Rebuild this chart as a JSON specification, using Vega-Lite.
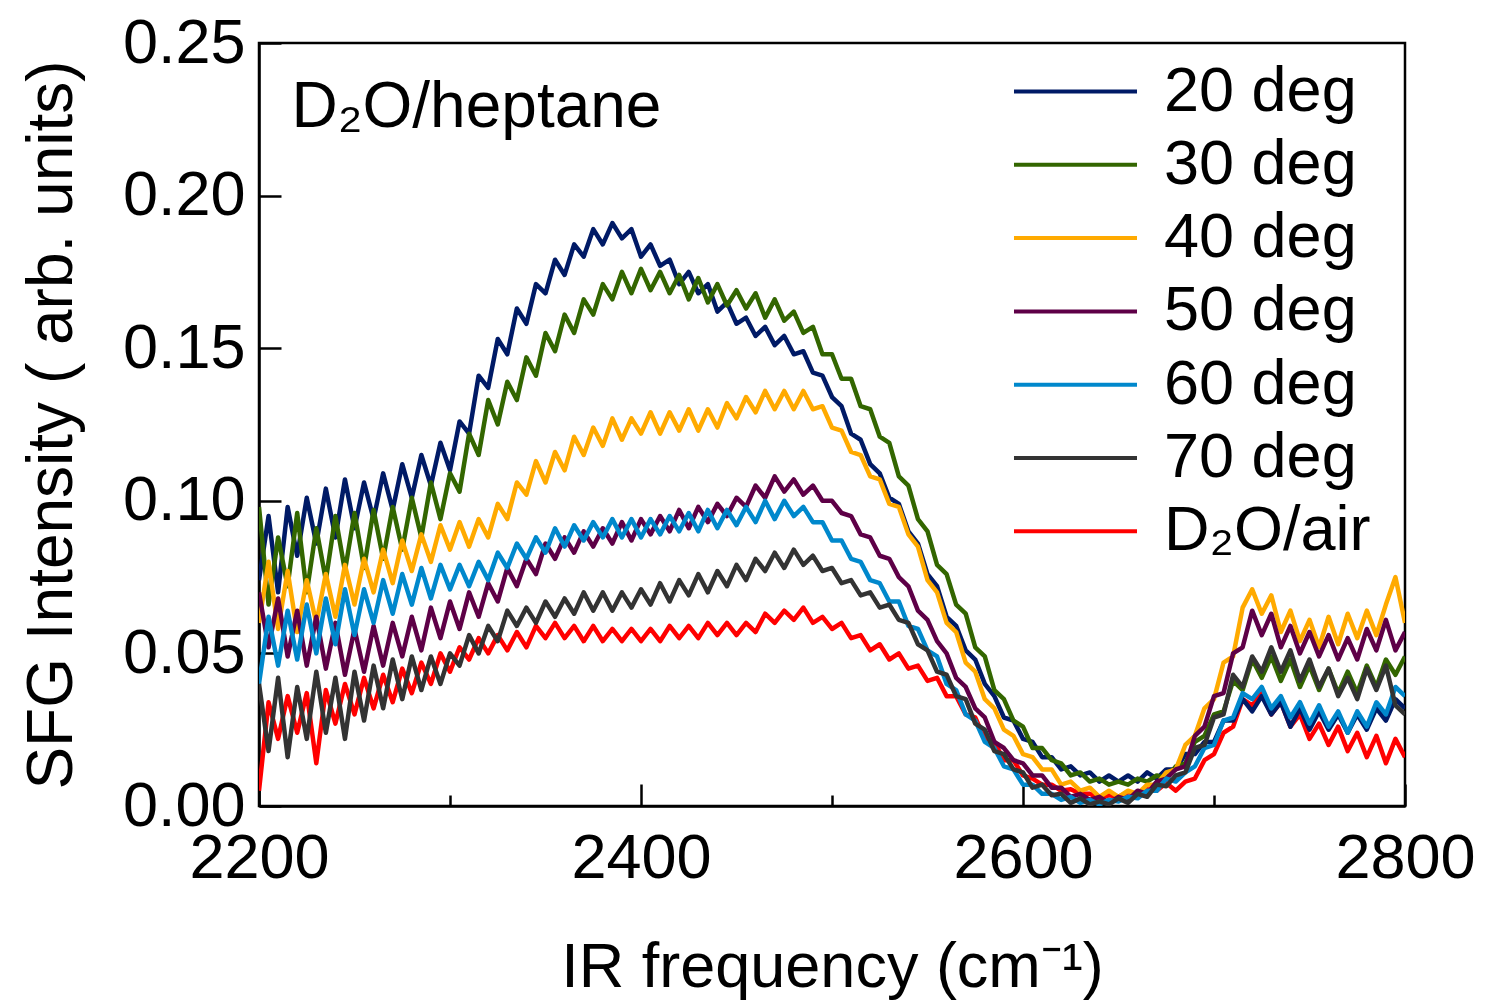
{
"$schema": "https://vega.github.io/schema/vega-lite/v6.json",
"width": 1146, "height": 763,
"autosize": {"type": "none"},
"padding": {"left": 259, "top": 43, "right": 80, "bottom": 198},
"background": "white",
"config": {"font": "Liberation Sans", "view": {"stroke": "black", "strokeWidth": 2.5}},
"data": {"values": [
{"x":2200,"a":0.074,"b":0.098,"c":0.060,"d":0.070,"e":0.040,"f":0.040,"g":0.005},
{"x":2205,"a":0.095,"b":0.066,"c":0.080,"d":0.052,"e":0.062,"f":0.018,"g":0.034},
{"x":2210,"a":0.070,"b":0.088,"c":0.058,"d":0.068,"e":0.046,"f":0.042,"g":0.022},
{"x":2215,"a":0.098,"b":0.072,"c":0.077,"d":0.049,"e":0.064,"f":0.016,"g":0.036},
{"x":2220,"a":0.082,"b":0.096,"c":0.057,"d":0.064,"e":0.048,"f":0.039,"g":0.024},
{"x":2225,"a":0.101,"b":0.070,"c":0.074,"d":0.046,"e":0.066,"f":0.022,"g":0.037},
{"x":2230,"a":0.086,"b":0.091,"c":0.060,"d":0.062,"e":0.050,"f":0.044,"g":0.014},
{"x":2235,"a":0.104,"b":0.074,"c":0.076,"d":0.045,"e":0.068,"f":0.024,"g":0.038},
{"x":2240,"a":0.088,"b":0.095,"c":0.062,"d":0.060,"e":0.053,"f":0.042,"g":0.027},
{"x":2245,"a":0.107,"b":0.077,"c":0.079,"d":0.043,"e":0.071,"f":0.022,"g":0.040},
{"x":2250,"a":0.091,"b":0.096,"c":0.066,"d":0.058,"e":0.056,"f":0.044,"g":0.030},
{"x":2255,"a":0.106,"b":0.078,"c":0.081,"d":0.044,"e":0.071,"f":0.028,"g":0.042},
{"x":2260,"a":0.094,"b":0.097,"c":0.070,"d":0.059,"e":0.060,"f":0.046,"g":0.032},
{"x":2265,"a":0.109,"b":0.081,"c":0.084,"d":0.046,"e":0.074,"f":0.032,"g":0.043},
{"x":2270,"a":0.097,"b":0.098,"c":0.073,"d":0.060,"e":0.063,"f":0.048,"g":0.034},
{"x":2275,"a":0.112,"b":0.084,"c":0.087,"d":0.049,"e":0.076,"f":0.035,"g":0.045},
{"x":2280,"a":0.101,"b":0.101,"c":0.077,"d":0.062,"e":0.066,"f":0.049,"g":0.037},
{"x":2285,"a":0.115,"b":0.088,"c":0.089,"d":0.051,"e":0.078,"f":0.038,"g":0.047},
{"x":2290,"a":0.105,"b":0.106,"c":0.080,"d":0.065,"e":0.068,"f":0.049,"g":0.040},
{"x":2295,"a":0.119,"b":0.094,"c":0.092,"d":0.055,"e":0.079,"f":0.040,"g":0.050},
{"x":2300,"a":0.110,"b":0.109,"c":0.084,"d":0.067,"e":0.071,"f":0.050,"g":0.044},
{"x":2305,"a":0.126,"b":0.103,"c":0.093,"d":0.058,"e":0.079,"f":0.046,"g":0.052},
{"x":2310,"a":0.122,"b":0.122,"c":0.085,"d":0.070,"e":0.072,"f":0.056,"g":0.048},
{"x":2315,"a":0.141,"b":0.115,"c":0.094,"d":0.062,"e":0.080,"f":0.050,"g":0.055},
{"x":2320,"a":0.137,"b":0.133,"c":0.088,"d":0.073,"e":0.074,"f":0.059,"g":0.050},
{"x":2325,"a":0.153,"b":0.125,"c":0.099,"d":0.067,"e":0.083,"f":0.054,"g":0.056},
{"x":2330,"a":0.148,"b":0.139,"c":0.094,"d":0.078,"e":0.078,"f":0.064,"g":0.051},
{"x":2335,"a":0.163,"b":0.133,"c":0.106,"d":0.072,"e":0.086,"f":0.059,"g":0.057},
{"x":2340,"a":0.158,"b":0.147,"c":0.102,"d":0.081,"e":0.081,"f":0.065,"g":0.052},
{"x":2345,"a":0.171,"b":0.141,"c":0.113,"d":0.076,"e":0.088,"f":0.060,"g":0.059},
{"x":2350,"a":0.168,"b":0.155,"c":0.106,"d":0.086,"e":0.083,"f":0.067,"g":0.055},
{"x":2355,"a":0.179,"b":0.149,"c":0.116,"d":0.081,"e":0.091,"f":0.062,"g":0.060},
{"x":2360,"a":0.174,"b":0.161,"c":0.110,"d":0.088,"e":0.085,"f":0.068,"g":0.055},
{"x":2365,"a":0.184,"b":0.155,"c":0.121,"d":0.083,"e":0.092,"f":0.063,"g":0.059},
{"x":2370,"a":0.180,"b":0.166,"c":0.115,"d":0.090,"e":0.087,"f":0.070,"g":0.054},
{"x":2375,"a":0.189,"b":0.161,"c":0.124,"d":0.085,"e":0.093,"f":0.064,"g":0.059},
{"x":2380,"a":0.184,"b":0.171,"c":0.118,"d":0.091,"e":0.088,"f":0.070,"g":0.054},
{"x":2385,"a":0.191,"b":0.166,"c":0.127,"d":0.086,"e":0.094,"f":0.064,"g":0.058},
{"x":2390,"a":0.186,"b":0.175,"c":0.120,"d":0.093,"e":0.088,"f":0.070,"g":0.054},
{"x":2395,"a":0.189,"b":0.168,"c":0.127,"d":0.087,"e":0.094,"f":0.065,"g":0.058},
{"x":2400,"a":0.180,"b":0.176,"c":0.122,"d":0.094,"e":0.088,"f":0.071,"g":0.054},
{"x":2405,"a":0.184,"b":0.169,"c":0.129,"d":0.089,"e":0.094,"f":0.066,"g":0.058},
{"x":2410,"a":0.177,"b":0.175,"c":0.122,"d":0.095,"e":0.089,"f":0.073,"g":0.054},
{"x":2415,"a":0.179,"b":0.168,"c":0.129,"d":0.090,"e":0.095,"f":0.067,"g":0.059},
{"x":2420,"a":0.171,"b":0.174,"c":0.123,"d":0.097,"e":0.090,"f":0.074,"g":0.055},
{"x":2425,"a":0.175,"b":0.166,"c":0.130,"d":0.091,"e":0.096,"f":0.069,"g":0.059},
{"x":2430,"a":0.168,"b":0.173,"c":0.123,"d":0.098,"e":0.090,"f":0.076,"g":0.055},
{"x":2435,"a":0.171,"b":0.165,"c":0.130,"d":0.093,"e":0.097,"f":0.070,"g":0.060},
{"x":2440,"a":0.162,"b":0.171,"c":0.124,"d":0.099,"e":0.091,"f":0.077,"g":0.056},
{"x":2445,"a":0.165,"b":0.164,"c":0.132,"d":0.095,"e":0.097,"f":0.072,"g":0.060},
{"x":2450,"a":0.158,"b":0.169,"c":0.127,"d":0.101,"e":0.092,"f":0.079,"g":0.056},
{"x":2455,"a":0.160,"b":0.163,"c":0.134,"d":0.098,"e":0.098,"f":0.074,"g":0.060},
{"x":2460,"a":0.154,"b":0.168,"c":0.129,"d":0.105,"e":0.093,"f":0.081,"g":0.057},
{"x":2465,"a":0.157,"b":0.160,"c":0.136,"d":0.101,"e":0.100,"f":0.077,"g":0.063},
{"x":2470,"a":0.151,"b":0.166,"c":0.130,"d":0.108,"e":0.094,"f":0.083,"g":0.060},
{"x":2475,"a":0.154,"b":0.159,"c":0.136,"d":0.103,"e":0.100,"f":0.078,"g":0.064},
{"x":2480,"a":0.148,"b":0.162,"c":0.130,"d":0.107,"e":0.095,"f":0.084,"g":0.061},
{"x":2485,"a":0.149,"b":0.155,"c":0.136,"d":0.102,"e":0.098,"f":0.079,"g":0.065},
{"x":2490,"a":0.142,"b":0.157,"c":0.130,"d":0.105,"e":0.093,"f":0.082,"g":0.060},
{"x":2495,"a":0.141,"b":0.148,"c":0.131,"d":0.100,"e":0.093,"f":0.077,"g":0.062},
{"x":2500,"a":0.134,"b":0.148,"c":0.124,"d":0.100,"e":0.087,"f":0.078,"g":0.058},
{"x":2505,"a":0.131,"b":0.140,"c":0.123,"d":0.096,"e":0.087,"f":0.073,"g":0.060},
{"x":2510,"a":0.122,"b":0.140,"c":0.116,"d":0.095,"e":0.081,"f":0.074,"g":0.055},
{"x":2515,"a":0.120,"b":0.131,"c":0.115,"d":0.089,"e":0.080,"f":0.069,"g":0.056},
{"x":2520,"a":0.112,"b":0.130,"c":0.108,"d":0.088,"e":0.074,"f":0.070,"g":0.051},
{"x":2525,"a":0.109,"b":0.121,"c":0.107,"d":0.082,"e":0.073,"f":0.065,"g":0.053},
{"x":2530,"a":0.101,"b":0.119,"c":0.099,"d":0.081,"e":0.067,"f":0.066,"g":0.048},
{"x":2535,"a":0.099,"b":0.108,"c":0.098,"d":0.075,"e":0.067,"f":0.061,"g":0.050},
{"x":2540,"a":0.090,"b":0.105,"c":0.089,"d":0.072,"e":0.059,"f":0.060,"g":0.045},
{"x":2545,"a":0.086,"b":0.094,"c":0.085,"d":0.064,"e":0.058,"f":0.053,"g":0.046},
{"x":2550,"a":0.076,"b":0.090,"c":0.074,"d":0.061,"e":0.051,"f":0.051,"g":0.041},
{"x":2555,"a":0.072,"b":0.079,"c":0.070,"d":0.054,"e":0.049,"f":0.044,"g":0.042},
{"x":2560,"a":0.062,"b":0.076,"c":0.060,"d":0.050,"e":0.040,"f":0.043,"g":0.036},
{"x":2565,"a":0.059,"b":0.066,"c":0.057,"d":0.042,"e":0.038,"f":0.036,"g":0.036},
{"x":2570,"a":0.051,"b":0.063,"c":0.047,"d":0.039,"e":0.030,"f":0.035,"g":0.030},
{"x":2575,"a":0.048,"b":0.052,"c":0.044,"d":0.032,"e":0.028,"f":0.027,"g":0.029},
{"x":2580,"a":0.040,"b":0.049,"c":0.035,"d":0.029,"e":0.021,"f":0.025,"g":0.022},
{"x":2585,"a":0.036,"b":0.038,"c":0.032,"d":0.021,"e":0.019,"f":0.018,"g":0.021},
{"x":2590,"a":0.029,"b":0.035,"c":0.025,"d":0.019,"e":0.013,"f":0.017,"g":0.015},
{"x":2595,"a":0.028,"b":0.028,"c":0.023,"d":0.015,"e":0.012,"f":0.012,"g":0.015},
{"x":2600,"a":0.022,"b":0.026,"c":0.017,"d":0.014,"e":0.007,"f":0.011,"g":0.010},
{"x":2605,"a":0.021,"b":0.019,"c":0.016,"d":0.010,"e":0.007,"f":0.006,"g":0.009},
{"x":2610,"a":0.016,"b":0.019,"c":0.012,"d":0.010,"e":0.004,"f":0.007,"g":0.007},
{"x":2615,"a":0.016,"b":0.015,"c":0.012,"d":0.006,"e":0.004,"f":0.0035,"g":0.007},
{"x":2620,"a":0.012,"b":0.014,"c":0.007,"d":0.006,"e":0.002,"f":0.004,"g":0.005},
{"x":2625,"a":0.013,"b":0.010,"c":0.008,"d":0.003,"e":0.003,"f":0.001,"g":0.0055},
{"x":2630,"a":0.010,"b":0.011,"c":0.005,"d":0.004,"e":0.001,"f":0.0025,"g":0.004},
{"x":2635,"a":0.011,"b":0.008,"c":0.006,"d":0.002,"e":0.002,"f":0.0005,"g":0.004},
{"x":2640,"a":0.008,"b":0.009,"c":0.003,"d":0.003,"e":0.0005,"f":0.0015,"g":0.0025},
{"x":2645,"a":0.010,"b":0.007,"c":0.005,"d":0.001,"e":0.002,"f":0.0005,"g":0.0035},
{"x":2650,"a":0.008,"b":0.008,"c":0.003,"d":0.003,"e":0.0015,"f":0.0025,"g":0.003},
{"x":2655,"a":0.010,"b":0.007,"c":0.005,"d":0.002,"e":0.003,"f":0.001,"g":0.0045},
{"x":2660,"a":0.008,"b":0.009,"c":0.004,"d":0.005,"e":0.0025,"f":0.004,"g":0.004},
{"x":2665,"a":0.011,"b":0.008,"c":0.007,"d":0.004,"e":0.005,"f":0.003,"g":0.0055},
{"x":2670,"a":0.009,"b":0.010,"c":0.007,"d":0.008,"e":0.005,"f":0.007,"g":0.005},
{"x":2675,"a":0.012,"b":0.009,"c":0.011,"d":0.009,"e":0.009,"f":0.0065,"g":0.0075},
{"x":2680,"a":0.012,"b":0.013,"c":0.012,"d":0.012,"e":0.008,"f":0.010,"g":0.005},
{"x":2685,"a":0.017,"b":0.014,"c":0.020,"d":0.013,"e":0.011,"f":0.011,"g":0.008},
{"x":2690,"a":0.017,"b":0.021,"c":0.023,"d":0.023,"e":0.013,"f":0.019,"g":0.009},
{"x":2695,"a":0.021,"b":0.023,"c":0.032,"d":0.026,"e":0.019,"f":0.020,"g":0.015},
{"x":2700,"a":0.021,"b":0.030,"c":0.035,"d":0.036,"e":0.020,"f":0.029,"g":0.017},
{"x":2705,"a":0.028,"b":0.031,"c":0.047,"d":0.037,"e":0.028,"f":0.030,"g":0.024},
{"x":2710,"a":0.028,"b":0.041,"c":0.049,"d":0.050,"e":0.029,"f":0.043,"g":0.026},
{"x":2715,"a":0.035,"b":0.038,"c":0.065,"d":0.052,"e":0.037,"f":0.039,"g":0.035},
{"x":2720,"a":0.031,"b":0.048,"c":0.071,"d":0.064,"e":0.035,"f":0.049,"g":0.033},
{"x":2725,"a":0.036,"b":0.042,"c":0.063,"d":0.056,"e":0.039,"f":0.044,"g":0.037},
{"x":2730,"a":0.030,"b":0.049,"c":0.069,"d":0.063,"e":0.032,"f":0.052,"g":0.030},
{"x":2735,"a":0.034,"b":0.041,"c":0.057,"d":0.052,"e":0.036,"f":0.044,"g":0.034},
{"x":2740,"a":0.026,"b":0.048,"c":0.064,"d":0.059,"e":0.029,"f":0.051,"g":0.026},
{"x":2745,"a":0.032,"b":0.039,"c":0.054,"d":0.050,"e":0.034,"f":0.041,"g":0.030},
{"x":2750,"a":0.025,"b":0.046,"c":0.061,"d":0.057,"e":0.027,"f":0.048,"g":0.022},
{"x":2755,"a":0.031,"b":0.038,"c":0.052,"d":0.049,"e":0.033,"f":0.039,"g":0.027},
{"x":2760,"a":0.025,"b":0.045,"c":0.062,"d":0.056,"e":0.026,"f":0.045,"g":0.020},
{"x":2765,"a":0.030,"b":0.037,"c":0.053,"d":0.048,"e":0.031,"f":0.036,"g":0.026},
{"x":2770,"a":0.024,"b":0.044,"c":0.063,"d":0.055,"e":0.024,"f":0.042,"g":0.018},
{"x":2775,"a":0.030,"b":0.037,"c":0.055,"d":0.048,"e":0.031,"f":0.035,"g":0.024},
{"x":2780,"a":0.025,"b":0.046,"c":0.064,"d":0.058,"e":0.026,"f":0.045,"g":0.016},
{"x":2785,"a":0.032,"b":0.039,"c":0.056,"d":0.051,"e":0.034,"f":0.038,"g":0.023},
{"x":2790,"a":0.028,"b":0.048,"c":0.066,"d":0.061,"e":0.030,"f":0.046,"g":0.014},
{"x":2795,"a":0.035,"b":0.043,"c":0.075,"d":0.051,"e":0.039,"f":0.033,"g":0.022},
{"x":2800,"a":0.032,"b":0.049,"c":0.060,"d":0.057,"e":0.036,"f":0.030,"g":0.016}
]},
"layer": [
{
"transform": [
{"fold": ["g", "a", "b", "c", "d", "e", "f"], "as": ["k", "y"]},
{"lookup": "k", "from": {"data": {"values": [
{"k": "a", "name": "20 deg"}, {"k": "b", "name": "30 deg"}, {"k": "c", "name": "40 deg"},
{"k": "d", "name": "50 deg"}, {"k": "e", "name": "60 deg"}, {"k": "f", "name": "70 deg"},
{"k": "g", "name": "D₂O/air"}]}, "key": "k", "fields": ["name"]}}
],
"mark": {"type": "line", "strokeWidth": 4.5, "clip": true, "strokeJoin": "round"},
"encoding": {
"x": {"field": "x", "type": "quantitative",
"scale": {"domain": [2200, 2800], "nice": false, "zero": false},
"axis": {"values": [2200, 2300, 2400, 2500, 2600, 2700, 2800], "format": "d",
"labelExpr": "datum.value % 200 === 0 ? datum.label : ''",
"tickSize": {"condition": {"test": "datum.value % 200 === 0", "value": -22}, "value": -11},
"tickColor": "black", "tickWidth": 2.5, "domainColor": "black", "domainWidth": 2.5,
"grid": false, "labelFontSize": 63, "labelColor": "black", "labelPadding": 43, "labelFlush": false,
"labelFont": "Liberation Sans",
"title": "IR frequency (cm⁻¹)", "titleFontSize": 63, "titleFontWeight": "normal", "titleColor": "black",
"titleFont": "Liberation Sans", "titlePadding": 46}},
"y": {"field": "y", "type": "quantitative",
"scale": {"domain": [0, 0.25], "nice": false},
"axis": {"values": [0, 0.05, 0.1, 0.15, 0.2, 0.25], "format": ".2f",
"tickSize": -22, "tickColor": "black", "tickWidth": 2.5, "domainColor": "black", "domainWidth": 2.5,
"grid": false, "labelFontSize": 63, "labelColor": "black", "labelPadding": 36, "labelFlush": false,
"labelFont": "Liberation Sans",
"title": "SFG Intensity ( arb. units)", "titleFontSize": 64, "titleFontWeight": "normal", "titleColor": "black",
"titleFont": "Liberation Sans", "titlePadding": 38}},
"color": {"field": "name", "type": "nominal",
"scale": {"domain": ["20 deg", "30 deg", "40 deg", "50 deg", "60 deg", "70 deg", "D₂O/air"],
"range": ["#001a66", "#336600", "#ffaa00", "#5e0047", "#0088cc", "#333333", "#ff0000"]},
"legend": {"orient": "none", "legendX": 785, "legendY": 17, "title": null, "padding": 0,
"symbolType": "M-2.5,0L2.5,0", "symbolSize": 2421, "symbolStrokeWidth": 4,
"labelFontSize": 63, "labelFont": "Liberation Sans", "labelColor": "black", "labelLimit": 500,
"labelOffset": 57, "rowPadding": 9.3}}
}
},
{
"data": {"values": [{}]},
"mark": {"type": "text", "text": "D₂O/heptane", "align": "left", "baseline": "middle", "fontSize": 64, "font": "Liberation Sans", "color": "black"},
"encoding": {"x": {"datum": 2217}, "y": {"datum": 0.2287}}
}
]
}
